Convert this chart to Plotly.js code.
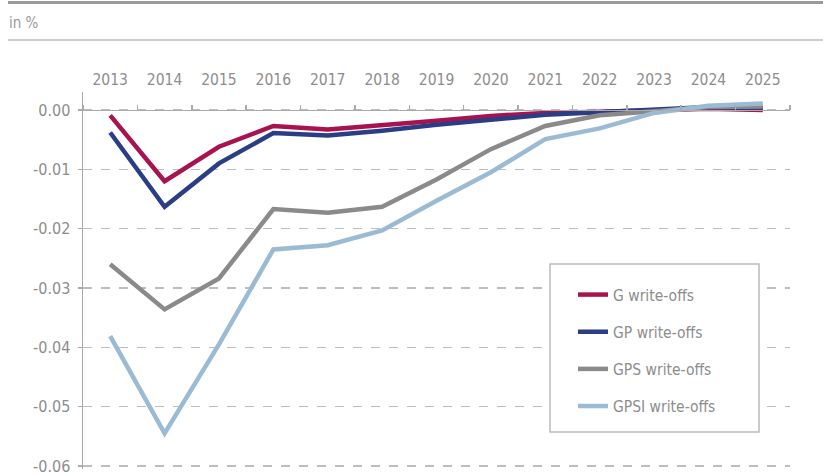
<!DOCTYPE html>
<html>
<head>
<meta charset="utf-8">
<script src="https://cdn.plot.ly/plotly-3.0.1.min.js"></script>
<style>html,body{margin:0;padding:0;background:#fff;}#chart{width:823px;height:474px;}</style>
</head>
<body>
<div id="chart"></div>
<script>
const years = ['2013','2014','2015','2016','2017','2018','2019','2020','2021','2022','2023','2024','2025'];
const gWriteOffs    = [-0.0009,-0.0120,-0.0062,-0.0027,-0.0033,-0.0026,-0.0018,-0.0010,-0.0005,-0.0003,0.0000,0.0002,0.0000];
const gpWriteOffs   = [-0.0038,-0.0163,-0.0090,-0.0039,-0.0043,-0.0035,-0.0025,-0.0016,-0.0008,-0.0004,0.0001,0.0005,0.0003];
const gpsWriteOffs  = [-0.0260,-0.0336,-0.0284,-0.0167,-0.0173,-0.0163,-0.0117,-0.0066,-0.0027,-0.0009,-0.0002,0.0005,0.0006];
const gpsiWriteOffs = [-0.0381,-0.0545,-0.0395,-0.0235,-0.0228,-0.0203,-0.0153,-0.0105,-0.0049,-0.0031,-0.0005,0.0007,0.0011];
const seriesNames = ['G write-offs','GP write-offs','GPS write-offs','GPSI write-offs'];
const yTickVals = [0,-0.01,-0.02,-0.03,-0.04,-0.05,-0.06];
const yTickText = ['0.00','-0.01','-0.02','-0.03','-0.04','-0.05','-0.06'];
const unitLabel = 'in %';

const colors = ['#a8134f','#2b3e85','#8a8a8a','#9bbad3'];
const FONT = '"DejaVu Sans Condensed","Liberation Sans Narrow","Roboto",sans-serif';
const textGray = '#8d8d8d';
const yRange = [-0.0605, 0.00303];

// layout geometry (pixels)
const L = 83, R = 33, T = 92, B = 5, W = 823, H = 474;
const PW = W - L - R, PH = H - T - B;
const px = v => (v - L) / PW;
const py = v => (H - B - v) / PH;

const data = [gWriteOffs, gpWriteOffs, gpsWriteOffs, gpsiWriteOffs].map((vals, i) => ({
  type: 'scatter', mode: 'lines', x: years, y: vals, name: seriesNames[i],
  legendgroup: 'g' + i,
  line: {color: colors[i], width: 4.5}, hoverinfo: 'skip'
}));

const zeroPos = (0 - yRange[0]) / (yRange[1] - yRange[0]);

const layout = {
  width: W, height: H,
  margin: {l: L, r: R, t: T, b: B},
  paper_bgcolor: '#fff', plot_bgcolor: '#fff',
  font: {family: FONT, size: 15, color: textGray},
  showlegend: true,
  xaxis: {
    type: 'category', categoryarray: years, range: [-0.5, 12.5],
    anchor: 'free', position: zeroPos, side: 'top',
    showline: true, linecolor: '#aaaaaa', linewidth: 1.5,
    ticks: 'outside', ticklen: 5, tickwidth: 1.5, tickcolor: '#aaaaaa', tickson: 'boundaries',
    showgrid: false, zeroline: false, ticklabelstandoff: 19,
    tickfont: {family: FONT, size: 15.5, color: textGray}
  },
  yaxis: {
    range: yRange, tickvals: yTickVals, ticktext: yTickText,
    showline: true, linecolor: '#aaaaaa', linewidth: 1.5,
    ticks: 'outside', ticklen: 4, tickwidth: 1.5, tickcolor: '#aaaaaa',
    showgrid: true, gridcolor: '#bdbdbd', gridwidth: 1.2, griddash: 'dash',
    zeroline: false, ticklabelstandoff: 4, ticklabeloverflow: 'allow',
    tickfont: {family: FONT, size: 16, color: textGray}
  },
  legend: {
    x: px(573), y: py(278), xanchor: 'left', yanchor: 'top',
    bgcolor: 'rgba(0,0,0,0)', borderwidth: 0, tracegroupgap: 14,
    font: {family: FONT, size: 15.5, color: textGray}
  },
  shapes: [
    {type: 'rect', xref: 'paper', yref: 'paper', layer: 'above',
     x0: px(550), x1: px(759), y0: py(432), y1: py(264),
     line: {color: '#bbbbbb', width: 1.5}, fillcolor: '#ffffff'},
    {type: 'line', xref: 'paper', yref: 'paper', x0: px(8), x1: px(823),
     y0: py(2.5), y1: py(2.5), line: {color: '#9a9a9a', width: 3}},
    {type: 'line', xref: 'paper', yref: 'paper', x0: px(8), x1: px(823),
     y0: py(40), y1: py(40), line: {color: '#bdbdbd', width: 1.5}}
  ],
  annotations: [
    {xref: 'paper', yref: 'paper', x: px(7), y: py(23),
     xanchor: 'left', yanchor: 'middle', showarrow: false, text: unitLabel,
     font: {family: FONT, size: 15, color: '#9a9a9a'}}
  ]
};

Plotly.newPlot('chart', data, layout, {displayModeBar: false, staticPlot: true});
</script>
</body>
</html>
